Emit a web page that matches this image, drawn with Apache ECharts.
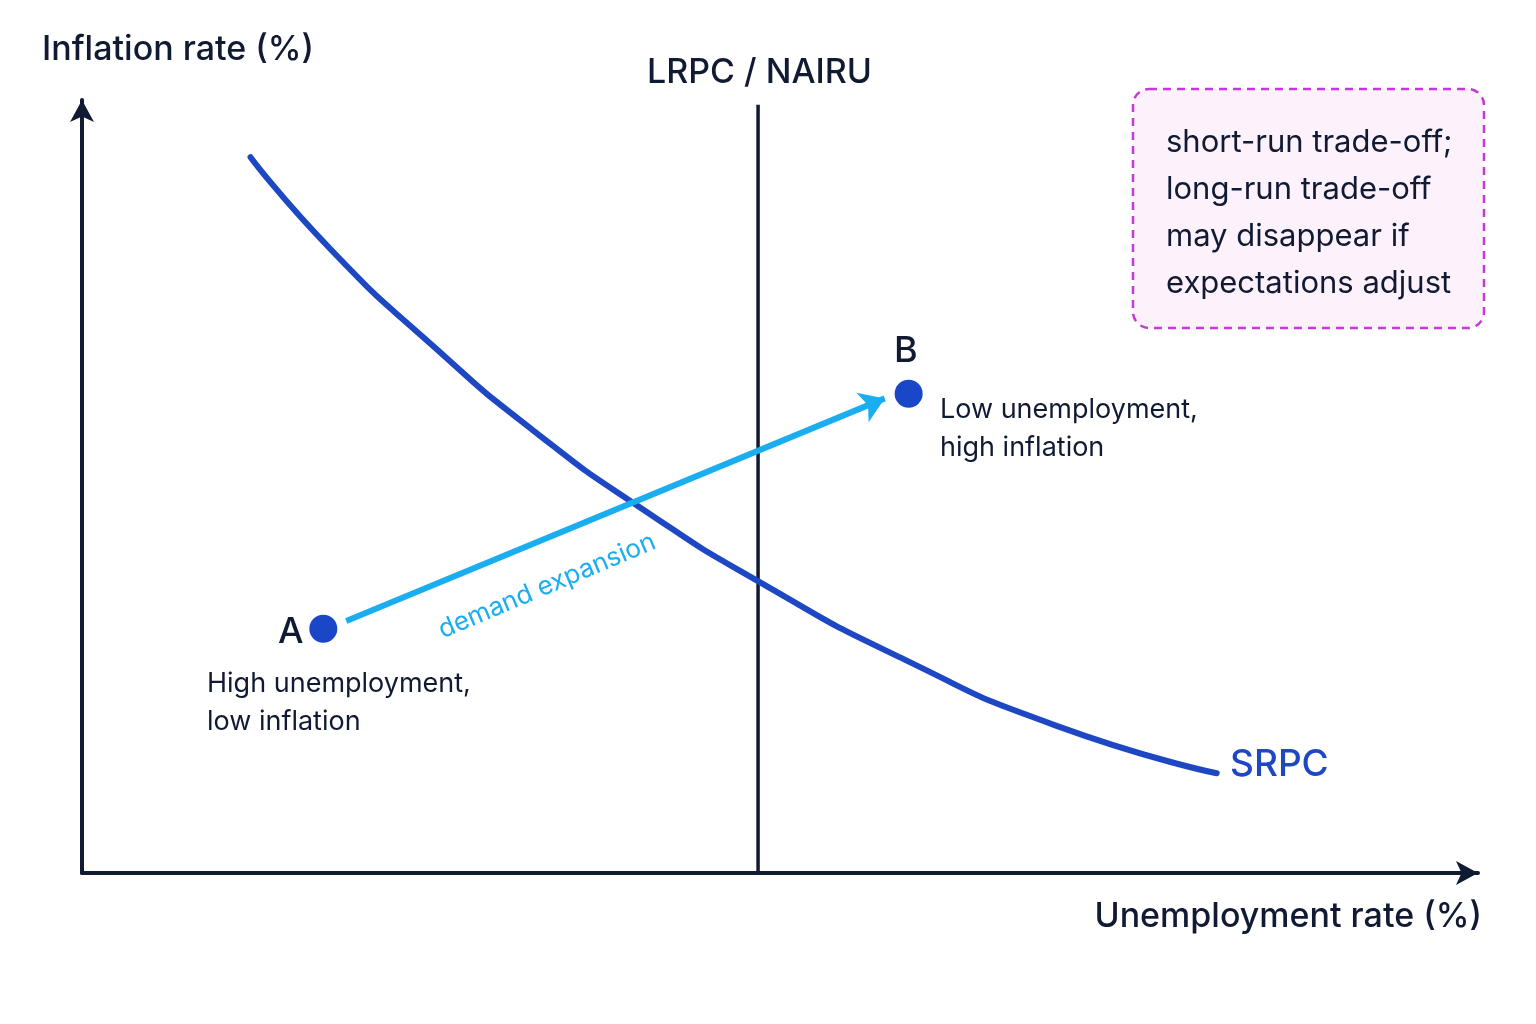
<!DOCTYPE html>
<html><head><meta charset="utf-8">
<script src="https://cdn.jsdelivr.net/npm/echarts@6/dist/echarts.min.js"></script>
<style>html,body{margin:0;padding:0;background:#fff}#c{width:1536px;height:1024px}</style>
</head><body><div id="c"></div>
<script>
const srpcX = [1.69, 2.50, 3.51, 4.52, 5.63, 6.84, 8.25, 9.76, 11.38];
const srpcY = [9.26, 8.06, 6.83, 5.73, 4.70, 3.73, 2.76, 1.91, 1.29];
const lrpcX = 6.78;
const lrpcTop = 9.94;
const pointNames = ['A', 'B'];
const pointX = [2.42, 8.29];
const pointY = [3.16, 6.20];
const arrowFrom = [2.65, 3.26];
const arrowTo = [8.05, 6.14];
const noteLines = ['short-run trade-off;', 'long-run trade-off', 'may disappear if', 'expectations adjust'];

const F = 'Inter, "Noto Sans", sans-serif';
const ink = '#111a33';
const chart = echarts.init(document.getElementById('c'));
chart.setOption({
  animation: false,
  grid: {left: 82, right: 58, top: 100, bottom: 151},
  xAxis: {type: 'value', min: 0, max: 14, splitLine: {show: false}, axisTick: {show: false}, axisLabel: {show: false},
    axisLine: {lineStyle: {color: ink, width: 4}, symbol: ['none', 'arrow'], symbolSize: [18, 22]}},
  yAxis: {type: 'value', min: 0, max: 10, splitLine: {show: false}, axisTick: {show: false}, axisLabel: {show: false},
    axisLine: {lineStyle: {color: ink, width: 4}, symbol: ['none', 'arrow'], symbolSize: [18, 22]}},
  series: [
    {type: 'line', smooth: 0.6, symbol: 'none', data: srpcX.map((x, i) => [x, srpcY[i]]),
      lineStyle: {color: '#1e47c4', width: 6, cap: 'round'}, z: 3},
    {type: 'line', symbol: 'none', data: [[lrpcX, 0], [lrpcX, lrpcTop]], lineStyle: {color: ink, width: 3.5}, z: 2},
    {type: 'lines', coordinateSystem: 'cartesian2d', symbol: ['none', 'arrow'], symbolSize: 24,
      data: [{coords: [arrowFrom, arrowTo]}], lineStyle: {color: '#1aaef0', width: 6, opacity: 1}, z: 4},
    {type: 'scatter', symbolSize: 28, itemStyle: {color: '#1a47c8', opacity: 1}, z: 5,
      data: pointX.map((x, i) => [x, pointY[i]])}
  ],
  graphic: [
    {type: 'text', left: 42, top: 33, style: {text: 'Inflation rate (%)', font: '500 34px ' + F, fill: ink}},
    {type: 'text', right: 54, top: 900, style: {text: 'Unemployment rate (%)', font: '500 34px ' + F, fill: ink}},
    {type: 'text', left: 647, top: 56, style: {text: 'LRPC / NAIRU', font: '500 34px ' + F, fill: ink}},
    {type: 'text', left: 1230, top: 746, style: {text: 'SRPC', font: '500 37px ' + F, fill: '#1e47c4'}},
    {type: 'text', left: 278, top: 614, style: {text: pointNames[0], font: '500 36px ' + F, fill: ink}},
    {type: 'text', left: 894, top: 333, style: {text: pointNames[1], font: '500 36px ' + F, fill: ink}},
    {type: 'text', left: 207, top: 665, style: {text: 'High unemployment,\nlow inflation', font: '27px ' + F, lineHeight: 38, fill: ink}},
    {type: 'text', left: 940, top: 391, style: {text: 'Low unemployment,\nhigh inflation', font: '27px ' + F, lineHeight: 38, fill: ink}},
    {type: 'text', x: 547, y: 586, rotation: 0.40, style: {text: 'demand expansion', font: '26px ' + F, fill: '#1aaef0', align: 'center', verticalAlign: 'middle'}},
    {type: 'rect', shape: {x: 1133, y: 89, width: 351, height: 239, r: 16},
      style: {fill: '#fdf1fc', stroke: '#c43ad8', lineWidth: 2.5, lineDash: [8, 6]}},
    {type: 'text', left: 1166, top: 119, style: {text: noteLines.join('\n'), font: '31px ' + F, lineHeight: 47, fill: ink}}
  ]
});
</script></body></html>
